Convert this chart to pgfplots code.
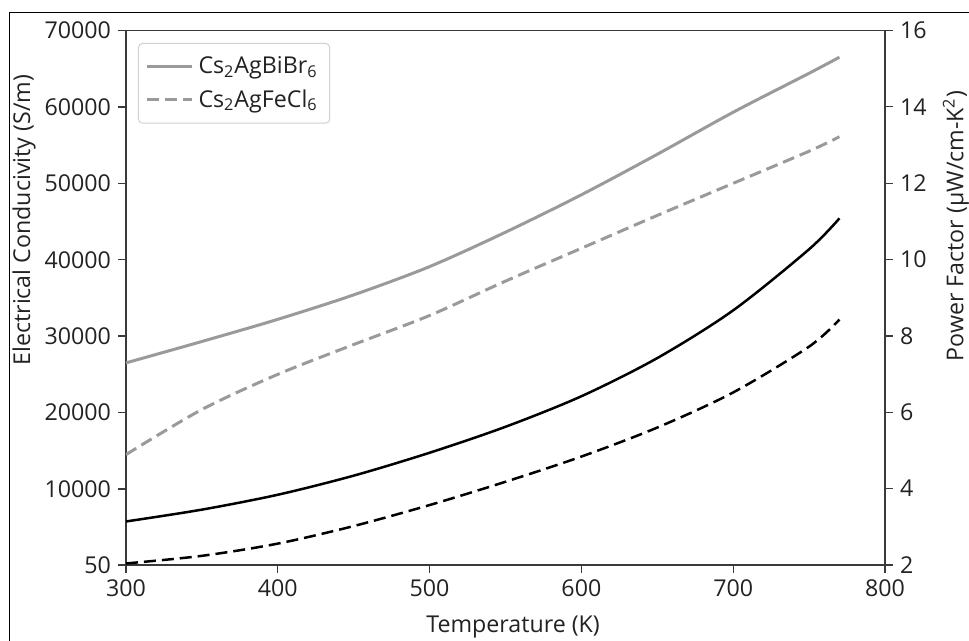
\documentclass[border=0pt]{standalone}
\usepackage{pgfplots}
\usepackage{pgfplotstable}
\pgfplotsset{compat=1.18}
\usepackage{fontspec}
\setmainfont{Open Sans}

\definecolor{curvegray}{HTML}{9A9A9A}
\definecolor{axisdark}{HTML}{3A3A3A}
\definecolor{textdark}{HTML}{222222}

\newcommand{\labelfont}{\fontsize{11.6}{14}\selectfont}

% Electrical conductivity (S/m)
\pgfplotstableread{
T     sigma
300   26500
350   29300
400   32200
450   35400
500   39100
550   43600
600   48500
650   53800
700   59300
750   64400
770   66500
}\sigmaBr

\pgfplotstableread{
T     sigma
300   14500
350   20400
400   25000
450   28900
500   32700
550   37200
600   41500
650   45800
700   50000
750   54200
770   56100
}\sigmaCl

% Power factor (uW/cm-K^2)
\pgfplotstableread{
T     pf
300   3.14
350   3.45
400   3.84
450   4.34
500   4.94
550   5.62
600   6.42
650   7.42
700   8.67
750   10.27
770   11.08
}\pfBr

\pgfplotstableread{
T     pf
300   2.04
350   2.24
400   2.56
450   3.02
500   3.57
550   4.18
600   4.84
650   5.60
700   6.52
750   7.72
770   8.43
}\pfCl

\pgfplotsset{
  common/.style={
    scale only axis,
    at={(63pt,38pt)}, anchor=south west,
    width=379.5pt, height=267.25pt,
    xmin=300, xmax=800,
    tick align=outside,
    major tick length=4pt,
    axis line style={axisdark, line width=0.65pt},
    every tick/.style={axisdark, line width=0.65pt},
    tick label style={font=\labelfont, text=textdark},
    /pgf/number format/assume math mode=true,
    /pgf/number format/1000 sep={},
    scaled ticks=false,
  },
}

\begin{document}
\begin{tikzpicture}
\useasboundingbox (0,0) rectangle (484.5pt,320.5pt);
\draw[line width=0.7pt, black] (4.75pt,-2pt) -- (4.75pt,314.35pt) -- (486pt,314.35pt);

\begin{axis}[
  common,
  ymin=50, ymax=70000,
  xtick={300,400,500,600,700,800},
  ytick={50,10000,20000,30000,40000,50000,60000,70000},
  xtick pos=bottom, ytick pos=left,
  xlabel={Temperature (K)},
  ylabel={Electrical Conducivity (S/m)},
  every axis x label/.style={at={(axis description cs:0.51,0)}, yshift=-31pt,
    anchor=center, font=\labelfont, text=textdark},
  every axis y label/.style={at={(axis description cs:0,0.645)}, xshift=-51pt,
    anchor=center, rotate=90, font=\labelfont, text=textdark},
  legend cell align=left,
  legend image code/.code={\draw[#1] (0pt,0pt) -- (22.5pt,0pt);},
  legend style={at={(0,1)}, anchor=north west, xshift=6pt, yshift=-6.25pt,
    draw=black!18, rounded corners=2pt, line width=0.5pt, fill=white,
    font=\labelfont, text=textdark,
    inner xsep=3.5pt, inner ysep=4pt, row sep=1.5pt,
    nodes={inner sep=2.5pt}},
]
\addplot[curvegray, line width=1.5pt, smooth] table[x=T, y=sigma] {\sigmaBr};
\addlegendentry{Cs\textsubscript{2}AgBiBr\textsubscript{6}}
\addplot[curvegray, line width=1.5pt, smooth, dash pattern=on 6pt off 3pt] table[x=T, y=sigma] {\sigmaCl};
\addlegendentry{Cs\textsubscript{2}AgFeCl\textsubscript{6}}
\end{axis}

\begin{axis}[
  common,
  ymin=2, ymax=16,
  ytick={2,4,...,16},
  axis x line=none,
  axis y line*=right,
  ytick pos=right,
  ylabel={Power Factor (μW/cm-K\textsuperscript{2})},
  every axis y label/.style={at={(axis description cs:1,0.634)}, xshift=35.5pt,
    anchor=center, rotate=90, font=\labelfont, text=textdark},
]
\addplot[black, line width=1.25pt, smooth] table[x=T, y=pf] {\pfBr};
\addplot[black, line width=1.25pt, smooth, dash pattern=on 6pt off 3pt] table[x=T, y=pf] {\pfCl};
\end{axis}
\end{tikzpicture}
\end{document}
